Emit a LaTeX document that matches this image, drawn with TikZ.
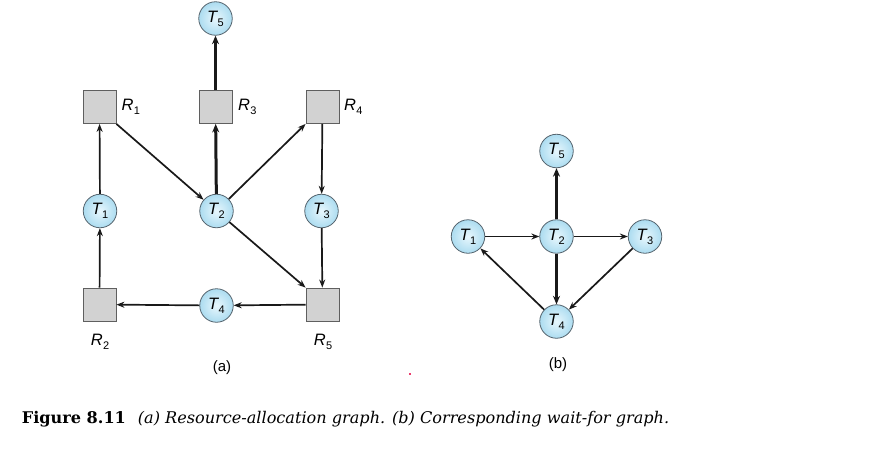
\documentclass[tikz,border=0pt]{standalone}
\usepackage{fontspec}
\setmainfont{Liberation Sans}
\newfontfamily\capfont{DejaVu Serif}
\usetikzlibrary{arrows.meta}
\definecolor{tin}{RGB}{232,247,253}
\definecolor{tout}{RGB}{172,220,240}
\definecolor{tedge}{RGB}{85,100,110}
\definecolor{rfill}{RGB}{210,210,210}
\definecolor{redge}{RGB}{95,95,95}
\definecolor{dotc}{RGB}{235,60,110}
\newcommand\tlab[1]{\textit{T}\kern-0.6pt\raisebox{-0.45ex}{\fontsize{11}{11}\selectfont #1}}
\newcommand\rlab[1]{\textit{R}\kern0.2pt\raisebox{-0.45ex}{\fontsize{11}{11}\selectfont #1}}
\begin{document}
\begin{tikzpicture}[x=1pt,y=-1pt,
  tnode/.style={circle,draw=tedge,line width=0.8pt,inner color=tin,outer color=tout,
    minimum size=33.5pt,inner sep=0pt,font=\fontsize{16.5}{16.5}\selectfont},
  rnode/.style={rectangle,draw=redge,fill=rfill,line width=0.8pt,minimum size=33pt,inner sep=0pt},
  rtext/.style={inner sep=0pt,font=\fontsize{16.5}{16.5}\selectfont},
  sublabel/.style={inner sep=0pt,font=\fontsize{15}{15}\selectfont},
  arr/.style={-{Stealth[length=8pt,width=6pt]},line width=1.7pt,draw=black!90},
  thickarr/.style={-{Stealth[length=8.5pt,width=7pt]},line width=3pt,draw=black!90}]
\useasboundingbox (0,0) rectangle (893,453);
\fill[white] (0,0) rectangle (893,453);
% (a)
\node[tnode] (T5a) at (215.5,18.5) {\tlab{5}};
\node[rnode] (R1) at (99.5,107) {};
\node[rnode] (R3) at (215.5,107) {};
\node[rnode] (R4) at (322.5,107) {};
\node[tnode] (T1a) at (100,211) {\tlab{1}};
\node[tnode] (T2a) at (216.5,211) {\tlab{2}};
\node[tnode] (T3a) at (321.5,211) {\tlab{3}};
\node[rnode] (R2) at (99.5,304.5) {};
\node[rnode] (R5) at (322.5,304.5) {};
\node[tnode] (T4a) at (216.5,305.5) {\tlab{4}};
\node[rtext,anchor=west] (LR1) at (121.5,107) {\rlab{1}};
\node[rtext,anchor=west] (LR3) at (238,107) {\rlab{3}};
\node[rtext,anchor=west] (LR4) at (344,107) {\rlab{4}};
\node[rtext] (LR2) at (100,342) {\rlab{2}};
\node[rtext] (LR5) at (323,342) {\rlab{5}};
\node[sublabel] (la) at (222,368) {(a)};
\draw[arr] (T1a) -- (R1);
\draw[arr] (R2) -- (T1a);
\draw[arr] (R1.south east) -- (T2a);
\draw[thickarr] (T2a) -- (R3);
\draw[thickarr] (R3) -- (T5a);
\draw[arr] (T2a) -- (R4.south west);
\draw[arr] (R4) -- (T3a);
\draw[arr] (T2a) -- (R5.north west);
\draw[arr] (T3a) -- (R5);
\draw[arr] (R5) -- (T4a);
\draw[arr] (T4a) -- (R2);
% (b)
\node[tnode] (T5b) at (556.5,151) {\tlab{5}};
\node[tnode] (T1b) at (468,236.5) {\tlab{1}};
\node[tnode] (T2b) at (556.5,236.5) {\tlab{2}};
\node[tnode] (T3b) at (645,236.5) {\tlab{3}};
\node[tnode] (T4b) at (556.5,321.5) {\tlab{4}};
\node[sublabel] (lb) at (558,365) {(b)};
\draw[arr] (T1b) -- (T2b);
\draw[arr] (T2b) -- (T3b);
\draw[thickarr] (T2b) -- (T5b);
\draw[thickarr] (T2b) -- (T4b);
\draw[arr] (T3b) -- (T4b);
\draw[arr] (T4b) -- (T1b);
% stray dot
\fill[dotc] (409.2,373) rectangle (411,375);
% caption
\node[anchor=base west,inner sep=0pt] (cap) at (21.7,423)
  {\capfont\fontsize{16.1}{19}\selectfont\textbf{Figure 8.11}\hspace{12pt}\textit{(a) Resource-allocation graph. (b) Corresponding wait-for graph.}};
\end{tikzpicture}
\end{document}
